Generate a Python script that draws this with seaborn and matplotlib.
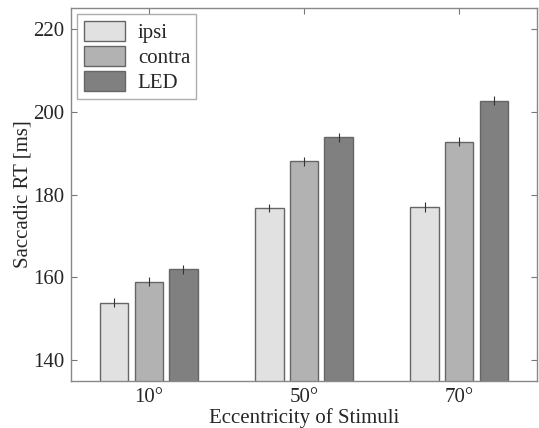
import numpy as np
import pandas as pd
import matplotlib
matplotlib.use("Agg")
import matplotlib.pyplot as plt
import seaborn as sns

# Data
eccentricities = ["10°", "50°", "70°"]
conditions = ["ipsi", "contra", "LED"]
ipsi_rt = [153.9, 176.7, 177.0]
contra_rt = [159.0, 188.0, 192.8]
led_rt = [161.9, 193.8, 202.7]
ipsi_err = [1.0, 1.0, 1.1]
contra_err = [1.1, 1.0, 1.0]
led_err = [1.0, 1.0, 1.0]

colors = ["#e1e1e1", "#b2b2b2", "#808080"]

rows = []
for cond, vals, errs in zip(conditions, [ipsi_rt, contra_rt, led_rt], [ipsi_err, contra_err, led_err]):
    for ecc, v, e in zip(eccentricities, vals, errs):
        rows.append({"ecc": ecc, "cond": cond, "rt": v, "err": e})
df = pd.DataFrame(rows)

sns.set_style("white")
plt.rcParams["font.family"] = ["Liberation Serif", "DejaVu Serif"]

fig = plt.figure(figsize=(5.39, 4.28), dpi=100)
ax = fig.add_axes([0.132, 0.110, 0.864, 0.871])

sns.barplot(data=df, x="ecc", y="rt", hue="cond", order=eccentricities,
            hue_order=conditions, palette=colors, width=0.67, gap=0.18,
            edgecolor="#666666", linewidth=1.0, errorbar=None, ax=ax)

# error bars at bar centres
for cont, cond in zip(ax.containers, conditions):
    sub = df[df["cond"] == cond].set_index("ecc").loc[eccentricities]
    xs = [p.get_x() + p.get_width() / 2 for p in cont.patches]
    ax.errorbar(xs, sub["rt"].values, yerr=sub["err"].values, fmt="none",
                ecolor="#333333", elinewidth=0.8, capsize=0)

ax.set_ylim(135, 225)
ax.set_xlim(-0.5, 2.5)
ax.set_yticks([140, 160, 180, 200, 220])
ax.set_xlabel("Eccentricity of Stimuli", fontsize=15, labelpad=1)
ax.set_ylabel("Saccadic RT [ms]", fontsize=15, labelpad=0)
ax.tick_params(axis="both", labelsize=15, direction="in", length=4, color="#777777",
               top=True, right=True, bottom=True, left=True, pad=5)
for s in ax.spines.values():
    s.set_color("#888888")
    s.set_linewidth(1.0)

leg = ax.legend(loc="upper left", fontsize=15, frameon=True, fancybox=False,
                edgecolor="#999999", handlelength=2.0, handleheight=1.1,
                borderpad=0.3, labelspacing=0.15, handletextpad=0.6,
                borderaxespad=0.3)
leg.get_frame().set_linewidth(1.0)

fig.savefig("out.png", dpi=100)
